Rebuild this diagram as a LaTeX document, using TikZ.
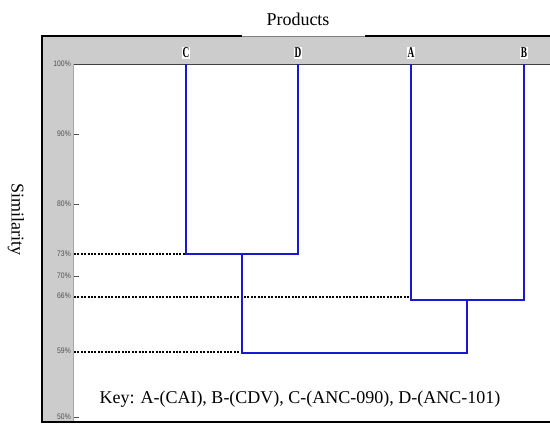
\documentclass[tikz,border=0pt]{standalone}
\usepackage{fontspec}
\setmainfont{Liberation Serif}
\newfontfamily\ticksf{Liberation Sans}
\definecolor{framegray}{RGB}{204,204,204}
\definecolor{linkblue}{RGB}{25,25,205}
\definecolor{ticktext}{RGB}{80,80,80}
\tikzset{
  link/.style={draw=linkblue, line width=2.2pt},
  dotline/.style={draw=black, line width=2.2pt, dash pattern=on 2pt off 1.4pt},
  leaf/.style={fill=white, inner sep=0.8pt, font=\fontsize{15}{15}\selectfont\bfseries},
  ticklab/.style={anchor=east, inner sep=0pt, text=ticktext, font=\ticksf\fontsize{8}{8}\selectfont},
  bigtext/.style={font=\fontsize{18}{20}\selectfont, inner sep=0pt},
  tickmark/.style={draw=ticktext, line width=0.6pt}
}
\begin{document}
\begin{tikzpicture}[x=1pt,y=-1pt]
\useasboundingbox (0,0) rectangle (550,424);
\fill[white] (0,0) rectangle (550,424);
% frame
\fill[framegray] (43,37) rectangle (550,64);
\fill[framegray] (43,37) rectangle (73,422);
\fill[white] (73,64) rectangle (550,421);
\draw[black!75, line width=1pt] (73,64) -- (550,64);
\draw[black!35, line width=0.6pt] (73,64) -- (73,421);
\draw[black, line width=2pt] (242,35.5) -- (42,35.5) -- (42,422) -- (550,422);
\draw[black, line width=2pt] (365,35.5) -- (550,35.5);
\draw[black!50, line width=0.5pt] (242,36.5) -- (365,36.5);
% titles
\node[bigtext] (prod) at (298,19) {Products};
\node[bigtext, rotate=-90] (sim) at (16,219) {Similarity};
\node[bigtext] (key) at (300,399) {Key: A-(CAI), B-(CDV), C-(ANC-090), D-(ANC-101)};
% leaf labels
\node[leaf] (C) at (186,53) {\scalebox{0.62}[1]{C}};
\node[leaf] (D) at (298,53) {\scalebox{0.62}[1]{D}};
\node[leaf] (A) at (411,53) {\scalebox{0.62}[1]{A}};
\node[leaf] (B) at (524,53) {\scalebox{0.62}[1]{B}};
% axis ticks
\foreach \v/\y in {100/64, 90/134, 80/204, 73/254, 70/276, 66/296, 59/351, 50/417}{
  \node[ticklab] (t\v) at (71,\y) {\scalebox{0.85}[1]{\v\%}};
  \coordinate (m\v) at (74,\y);
}
\foreach \v in {90,80,70,50}{
  \draw[tickmark] (m\v) -- ++(5,0);
}
% join points
\coordinate (cdJ) at (242,254);
\coordinate (abJ) at (467,300);
\coordinate (rootJ) at (355,353);
\coordinate (Ct) at (186,64);
\coordinate (Dt) at (298,64);
\coordinate (At) at (411,64);
\coordinate (Bt) at (524,64);
\coordinate (m66b) at (74,297);
\coordinate (m59b) at (74,352);
% dotted guides
\draw[dotline] (m73) -- (Ct |- cdJ);
\draw[dotline] (m66b) -- (At |- m66b);
\draw[dotline] (m59b) -- (cdJ |- m59b);
% dendrogram
\draw[link] (Ct) |- (cdJ);
\draw[link] (Dt) |- (cdJ);
\draw[link] (At) |- (abJ);
\draw[link] (Bt) |- (abJ);
\draw[link] (cdJ) |- (rootJ) -| (abJ);
\end{tikzpicture}
\end{document}
